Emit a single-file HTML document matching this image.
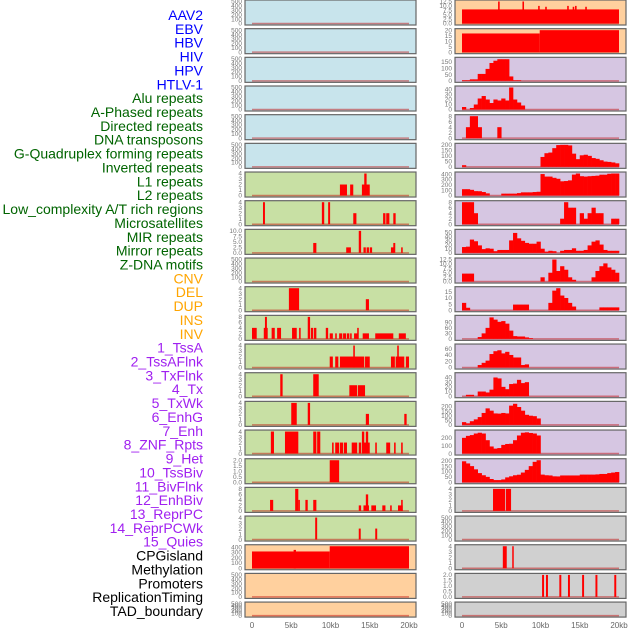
<!DOCTYPE html>
<html><head><meta charset="utf-8"><style>
html,body{margin:0;padding:0;background:#fff;width:630px;height:630px;overflow:hidden}
svg{display:block}
.lab{font-family:"Liberation Sans",sans-serif;font-size:14px}
.tk{font-family:"Liberation Sans",sans-serif;font-size:6.5px;fill:#777}
.xt{font-family:"Liberation Sans",sans-serif;font-size:8px;fill:#666}
</style></head><body>
<svg id="chart" width="630" height="630" xmlns="http://www.w3.org/2000/svg"></svg>
<script>
// ---- labels ----
const trackLabels = ["AAV2","EBV","HBV","HIV","HPV","HTLV-1","Alu repeats","A-Phased repeats","Directed repeats","DNA transposons","G-Quadruplex forming repeats","Inverted repeats","L1 repeats","L2 repeats","Low_complexity A/T rich regions","Microsatellites","MIR repeats","Mirror repeats","Z-DNA motifs","CNV","DEL","DUP","INS","INV","1_TssA","2_TssAFlnk","3_TxFlnk","4_Tx","5_TxWk","6_EnhG","7_Enh","8_ZNF_Rpts","9_Het","10_TssBiv","11_BivFlnk","12_EnhBiv","13_ReprPC","14_ReprPCWk","15_Quies","CPGisland","Methylation","Promoters","ReplicationTiming","TAD_boundary"];
const labelGroups = [6,13,5,15,5]; // counts per color group
const groupColors = ["#0000ff","#006400","#ffa500","#a020f0","#000000"];
// ---- x axis ----
const xTickValues = [0,5,10,15,20];
const xTickLabels = ["0","5kb","10kb","15kb","20kb"];
// ---- left column: y maxima, ticks, events [startKb,endKb,value] ----
const leftMax = [500,500,500,500,500,500,4,4,10,500,4,8,4,4,4,4,2,8,4,420,500,500];
const leftTicks = [
 [0,100,200,300,400,500],[0,100,200,300,400,500],[0,100,200,300,400,500],[0,100,200,300,400,500],[0,100,200,300,400,500],[0,100,200,300,400,500],
 [0,1,2,3,4],[0,1,2,3,4],[0,2.5,5,7.5,10],[0,100,200,300,400,500],[0,1,2,3,4],[0,2,4,6,8],
 [0,1,2,3,4],[0,1,2,3,4],[0,1,2,3,4],[0,1,2,3,4],[0,0.5,1,1.5,2],[0,2,4,6,8],[0,1,2,3,4],
 [0,100,200,300,400],[0,100,200,300,400,500],[0,100,200,300,400,500]];
const leftEvents = [
 [],[],[],[],[],[],
 [[11.2,12.1,2],[12.5,12.9,2],[14.0,15.0,2],[14.3,14.6,4]],
 [[1.4,1.65,4],[8.9,9.2,4],[9.7,9.95,4],[12.9,13.3,2],[16.7,17.0,2],[17.1,17.5,2],[18.0,18.3,2]],
 [[7.8,8.2,4.5],[12.0,12.6,2.5],[13.6,13.9,10],[14.2,14.5,2.5],[14.6,14.9,2.5],[15.0,15.3,2.5],[17.7,18.1,2.5],[18.0,18.25,4.5],[19.0,19.2,2.5]],
 [],
 [[4.7,6.0,4],[14.5,14.9,2]],
 [[0,0.6,4],[1.5,2.0,4],[1.65,1.9,8],[2.5,2.9,4],[3.2,3.7,4],[5.1,5.7,4],[6.0,6.2,4],[7.1,7.4,8],[7.5,7.8,4],[7.9,8.2,4],[9.4,9.7,4],[9.9,10.3,2],[10.6,10.8,2],[11.1,11.5,2],[11.6,12.0,2],[12.1,12.4,2],[12.5,12.7,2],[13.0,13.5,2],[13.4,13.6,4],[14.1,14.9,2],[15.7,18.0,2],[18.7,19.6,2]],
 [[9.9,10.3,2],[10.6,11.0,2],[11.2,14.3,2],[12.9,13.1,4],[14.4,15.0,2],[17.7,18.2,2],[18.3,19.4,2],[18.5,18.7,4],[19.6,20.0,2]],
 [[3.6,3.9,4],[7.8,8.5,4],[12.4,13.4,2],[13.5,14.4,2]],
 [[5.0,5.7,4],[7.1,7.4,4],[14.5,14.9,2],[19.4,19.7,2]],
 [[2.4,2.8,4],[4.2,5.9,4],[7.8,8.2,4],[8.3,8.7,4],[10.2,10.4,2],[10.6,11.1,2],[11.2,11.6,2],[11.7,12.1,2],[12.7,13.4,2],[13.6,13.9,2],[14.0,15.0,2],[14.0,14.3,4],[14.5,14.8,4],[15.7,15.9,2],[17.1,17.6,2],[18.1,18.3,2],[19.0,19.2,2]],
 [[9.9,11.1,2]],
 [[2.3,2.7,4],[5.5,5.9,8],[5.9,6.1,4],[6.8,7.1,4],[7.8,8.2,4],[13.6,13.9,2],[14.2,14.9,2],[14.5,14.8,6],[15.2,15.8,2],[16.6,17.0,2],[17.6,17.8,2],[18.6,19.2,2],[19.0,19.2,4]],
 [[8.05,8.3,4],[13.6,13.85,2],[15.7,15.95,2]],
 [[0,9.9,320],[5.3,5.6,350],[9.9,20,420]],
 [],[]];
// ---- right column ----
const rightMax = [12.5,20,175,44,8,200,410,8,53,12.5,18,120,70,47,240,280,205,4,500,4,2,500];
const rightTicks = [
 [0,2.5,5,7.5,10,12.5],[0,5,10,15,20],[0,50,100,150],[0,10,20,30,40],[0,2,4,6,8],[0,50,100,150,200],[0,100,200,300,400],[0,2,4,6,8],[0,10,20,30,40,50],[0,2.5,5,7.5,10,12.5],[0,5,10,15],[0,30,60,90],[0,20,40,60],[0,10,20,30,40],[0,50,100,150,200],[0,100,200],[0,50,100,150,200],
 [0,1,2,3,4],[0,100,200,300,400,500],[0,1,2,3,4],[0,0.5,1,1.5,2],[0,100,200,300,400,500]];
const rightEvents = {
 0:[[0,20,8],[4.6,4.8,12.5],[7.7,7.9,12.5],[9.7,9.9,10],[10.6,10.8,9.5],[13.4,13.6,10],[14.1,14.3,9.5],[14.4,14.6,10],[15.7,15.9,9.5]],
 1:[[0,9.9,17],[9.9,20,20]],
 17:[[3.95,5.5,4],[5.6,6.25,4]],
 19:[[5.2,5.7,4],[6.4,6.55,4]],
 20:[[10.2,10.45,2],[10.7,10.95,2],[12.4,12.65,2],[13.5,13.75,2],[15.3,15.55,2],[17.0,17.25,2],[19.4,19.65,2]]
};
// 40 bins of 0.5kb each
const rightBins = {
 2:[5,5,12,12,55,55,95,142,160,172,172,172,35,5,5,0,0,0,0,0,0,0,0,0,0,0,0,0,0,0,0,0,0,0,0,0,0,0,0,0],
 3:[5,0,3,10,22,27,20,13,20,18,22,18,44,20,14,8,0,0,0,0,0,0,0,0,0,0,0,0,0,0,0,0,0,0,0,0,0,0,0,0],
 4:[0,4,8,8,4,0,0,0,0,4,0,0,0,0,0,0,0,0,0,0,0,0,0,0,0,0,0,0,0,0,0,0,0,0,0,0,0,0,0,0],
 5:[15,0,0,0,0,0,0,0,0,0,0,0,0,0,0,0,0,0,0,0,90,124,130,170,198,200,200,195,120,70,105,110,100,80,73,60,48,45,40,32],
 6:[118,118,106,82,80,65,40,0,0,0,35,35,35,35,45,59,59,59,65,70,400,353,353,330,312,265,270,282,390,410,360,353,360,365,370,388,388,405,410,410],
 7:[8,8,8,4,0,0,0,0,0,0,0,0,0,0,0,0,0,0,0,0,0,0,0,0,0,2,8,6,6,0,4,2,4,6,4,4,0,0,2,2],
 8:[14,15,32,28,18,9,11,10,4,7,7,7,30,48,35,29,24,22,22,27,10,3,5,4,0,5,7,7,11,5,5,7,18,27,30,20,7,5,5,5],
 9:[4.5,4.5,4.5,0,0,0,0,0,0,0,0,0,0,0,0,0,0,0,0,0,2.4,0,5,12.5,6,8.7,6.7,2.4,1,0,0,0,0,2.4,6,8.7,10.3,8,6.7,5],
 10:[6,2,0,0,0,0,0,0,0,0,0,0,0,4.6,4.6,4.6,4.6,0,0,0,0,0,6,16,18,12,10,6,3,0,0,0,0,0,0,2.3,2.3,2.3,2.3,2.3],
 11:[0,0,0,0,10,30,60,117,105,93,97,83,45,15,13,13,8,4,0,0,0,0,0,0,0,0,0,0,0,0,0,0,0,0,0,0,0,0,0,0],
 12:[0,0,0,0,8,15,22,43,52,55,45,50,40,32,32,8,10,0,0,0,0,0,0,0,0,0,0,0,0,0,0,0,0,0,0,0,0,0,0,0],
 13:[0,3,3,0,10,10,8,14,40,38,20,15,26,27,35,28,30,0,0,0,0,0,0,0,0,0,0,0,0,0,0,0,0,0,0,0,0,0,0,0],
 14:[30,17,40,60,85,130,180,155,125,123,130,125,210,230,195,155,110,100,95,70,0,0,0,0,0,0,0,0,0,0,0,0,0,0,0,0,0,0,0,0],
 15:[200,225,235,255,265,255,170,90,63,70,110,122,125,170,230,265,270,262,255,230,0,0,0,0,0,0,0,0,0,0,0,0,0,0,0,0,0,0,0,0],
 16:[195,175,150,120,85,65,50,30,20,20,26,45,55,65,70,90,115,150,190,205,71,65,63,55,54,63,63,63,63,63,71,71,71,71,73,77,77,85,90,95]
};
const leftFill = i => i<6 ? "#c8e4ec" : (i<19 ? "#c8e0a4" : "#ffd09e");
const rightFill = i => i<2 ? "#ffd09e" : (i<17 ? "#d6c6e2" : "#d0d0d0");

const NS="http://www.w3.org/2000/svg";
const svg=document.getElementById('chart');
function mk(tag,attrs,parent){const e=document.createElementNS(NS,tag);for(const k in attrs)e.setAttribute(k,attrs[k]);(parent||svg).appendChild(e);return e;}
const PITCH=28.67;
const rowTop = i => i*PITCH;
const rowH = i => i===21 ? 15 : 25;
const xScale = (kb,side) => (side ? 462 : 252) + kb/20*157;
const yScale = (v,i,max) => { const t=rowTop(i)+1.5, b=rowTop(i)+rowH(i)-1.5; return b-(v/max)*(b-t); };
function fmt(v,ticks){ const dec = ticks.some(t=>t%1!==0); return dec ? v.toFixed(1) : String(v); }

// labels
let idx=0;
const LSTEP=(611-15)/43;
labelGroups.forEach((n,g)=>{ for(let k=0;k<n;k++){
  const t=mk('text',{x:203,y:15+idx*LSTEP+5,'text-anchor':'end',class:'lab',fill:groupColors[g]});
  
  
  t.textContent=trackLabels[idx]; idx++; }});

function drawPanel(i,side){
  const px = side ? 455 : 245, top=rowTop(i), h=rowH(i);
  const g=mk('g',{});
  
  
  const r=mk('rect',{x:px,y:top,width:171,height:h,fill:side?rightFill(i):leftFill(i),stroke:'#666','stroke-width':1.2},g);
  
  
  const max = side ? rightMax[i] : leftMax[i];
  const ticks = side ? rightTicks[i] : leftTicks[i];
  ticks.forEach(tv=>{
    const t=mk('text',{x:px-3,y:yScale(tv,i,max)+2.2,'text-anchor':'end',class:'tk'},g);
    
    
    t.textContent=fmt(tv,ticks);
  });
  const base=yScale(0,i,max);
  const rug=mk('line',{x1:xScale(0,side),x2:xScale(20,side),y1:base,y2:base,stroke:'rgba(190,0,0,0.45)','stroke-width':1.5},g);
  
  
  const evs = side ? (rightEvents[i]||[]) : leftEvents[i];
  evs.forEach(e=>{
    const x0=xScale(e[0],side), x1=xScale(e[1],side), y=yScale(e[2],i,max);
    const b=mk('rect',{x:x0,y:y,width:Math.max(1.5,x1-x0),height:base-y,fill:'#ff0000'},g);
    
    
  });
  if(side && rightBins[i]){
    rightBins[i].forEach((v,k)=>{
      if(v<=0) return;
      const x0=xScale(k*0.5,side), x1=xScale(k*0.5+0.5,side), y=yScale(v,i,max);
      const b=mk('rect',{x:x0,y:y,width:x1-x0+0.3,height:base-y,fill:'#ff0000'},g);
      
      
    });
  }
}
for(let i=0;i<22;i++){ drawPanel(i,0); drawPanel(i,1); }
[0,1].forEach(side=>{
  xTickValues.forEach((v,k)=>{
    const t=mk('text',{x:xScale(v,side),y:628,'text-anchor':'middle',class:'xt'});
    
    
    t.textContent=xTickLabels[k];
  });
});
</script>
</body></html>
